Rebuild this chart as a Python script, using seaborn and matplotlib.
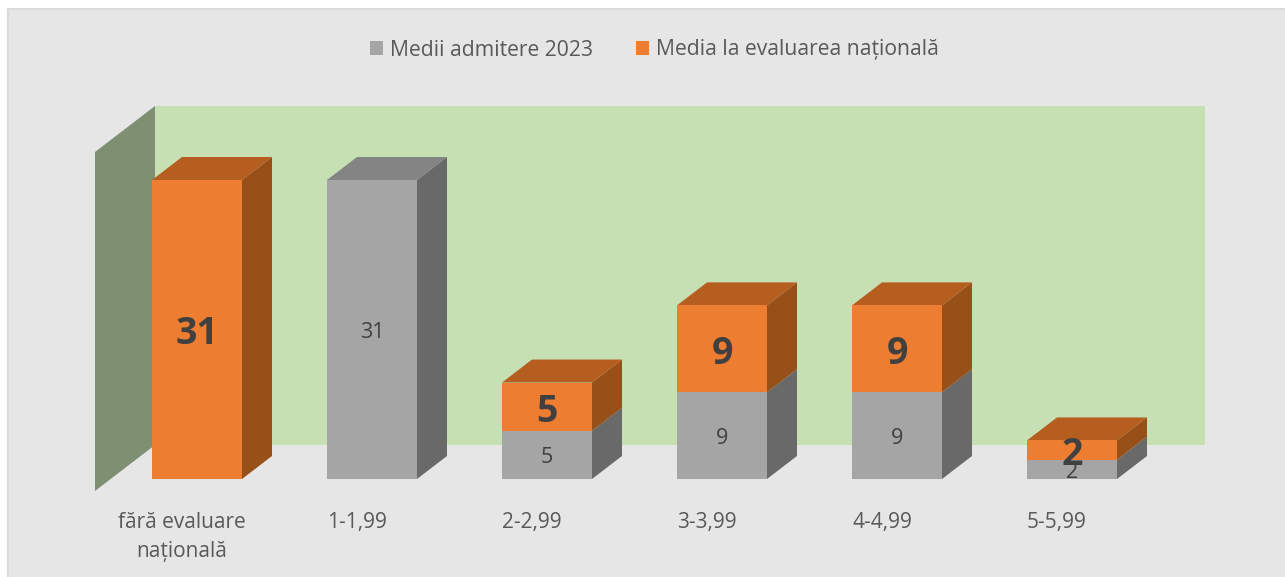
import matplotlib
matplotlib.use("Agg")
import matplotlib.pyplot as plt
import seaborn as sns
from matplotlib.patches import Polygon, Rectangle
from matplotlib.transforms import ScaledTranslation

categories = ["fără evaluare\nnațională", "1-1,99", "2-2,99", "3-3,99", "4-4,99", "5-5,99"]
medii_admitere = [0, 31, 5, 9, 9, 2]
media_evaluare = [31, 0, 5, 9, 9, 2]
series_names = ["Medii admitere 2023", "Media la evaluarea națională"]

W, H = 1285, 577
PX_PER_CAT = 175.0
PX_PER_UNIT = 299 / 31
DX = 30 / PX_PER_CAT
DY = 23 / PX_PER_UNIT

GREY, GREY_SIDE, GREY_TOP = "#A5A5A5", "#696969", "#848484"
ORANGE, ORANGE_SIDE, ORANGE_TOP = "#ED7D31", "#985019", "#B55E20"
FONT = "Open Sans"
TXT = "#595959"

sns.set_theme(style="white")
plt.rcParams["font.family"] = [FONT, "DejaVu Sans"]

fig = plt.figure(figsize=(W / 100, H / 100), dpi=100, facecolor="white")
fig.add_artist(Rectangle((8 / W, -0.01), (W - 8 + 10) / W, (H - 9) / H + 0.01, transform=fig.transFigure,
                         facecolor="#E6E6E6", edgecolor="#DADADA", linewidth=1.5, zorder=-10))
ax = fig.add_axes([109.5 / W, (H - 479) / H, 6 * PX_PER_CAT / W, 374 / H])
ax.patch.set_alpha(0)

sns.barplot(x=categories, y=medii_admitere, color=GREY, saturation=1, width=90 / PX_PER_CAT,
            label=series_names[0], ax=ax, zorder=4, linewidth=0, legend=False)
sns.barplot(x=categories, y=media_evaluare, bottom=medii_admitere, color=ORANGE, saturation=1,
            width=90 / PX_PER_CAT, label=series_names[1], ax=ax, zorder=4, linewidth=0, legend=False)
ax.set_xlim(-0.5, 5.5)
ax.set_ylim(0, 374 / PX_PER_UNIT)

# walls, positioned from the data scale
wall_left, wall_right = (155 - 197) / PX_PER_CAT, (1205 - 197) / PX_PER_CAT
wall_low, wall_high = (479 - 445) / PX_PER_UNIT, (479 - 106) / PX_PER_UNIT
ax.add_patch(Rectangle((wall_left, wall_low), wall_right - wall_left, wall_high - wall_low,
                       facecolor="#C6E0B4", edgecolor="none", zorder=1, clip_on=False))
ax.add_patch(Polygon([(wall_left - 2 * DX, wall_low - 2 * DY), (wall_left, wall_low),
                      (wall_left, wall_high), (wall_left - 2 * DX, wall_high - 2 * DY)],
                     facecolor="#7F9072", edgecolor="none", zorder=1, clip_on=False))

# 3D faces derived from the drawn bars
for cont, side, top, other in [(ax.containers[0], GREY_SIDE, GREY_TOP, media_evaluare),
                               (ax.containers[1], ORANGE_SIDE, ORANGE_TOP, None)]:
    for i, b in enumerate(cont.patches):
        h = b.get_height()
        if h <= 0:
            continue
        x1 = b.get_x() + b.get_width()
        x0 = b.get_x()
        y0 = b.get_y()
        y1 = y0 + h
        ax.add_patch(Polygon([(x1, y0), (x1 + DX, y0 + DY), (x1 + DX, y1 + DY), (x1, y1)],
                             facecolor=side, edgecolor="none", zorder=3, clip_on=False))
        if other is None or other[i] == 0:
            ax.add_patch(Polygon([(x0, y1), (x1, y1), (x1 + DX, y1 + DY), (x0 + DX, y1 + DY)],
                                 facecolor=top, edgecolor="none", zorder=3, clip_on=False))

small = ax.bar_label(ax.containers[0], labels=[str(v) if v else "" for v in medii_admitere],
                     label_type="center", fontsize=15.5, color="#404040", zorder=6)
big = ax.bar_label(ax.containers[1], labels=[str(v) if v else "" for v in media_evaluare],
                   label_type="center", fontsize=27, fontweight="bold", color="#404040", zorder=7)
for t in small:
    t.xyann = (0, -2)
for t in big:
    t.xyann = (0, -3.5)

sns.despine(ax=ax, left=True, bottom=True)
ax.set_yticks([])
ax.set_xticks(range(len(categories)))
ax.set_xticklabels(categories, fontsize=15, color=TXT, linespacing=1.5)
ax.tick_params(axis="x", length=0, pad=24)
shift = ScaledTranslation(-15 / 100, 0, fig.dpi_scale_trans)
for lab in ax.get_xticklabels():
    lab.set_transform(lab.get_transform() + shift)
ax.grid(False)

fig.legend(*ax.get_legend_handles_labels(), loc="center", bbox_to_anchor=(654.5 / W, 1 - 50 / H),
           ncol=2, frameon=False, fontsize=15.2, labelcolor=TXT, handlelength=0.62, handleheight=0.62,
           handletextpad=0.36, columnspacing=2.0)

fig.savefig("out.png", dpi=100, facecolor="white")
